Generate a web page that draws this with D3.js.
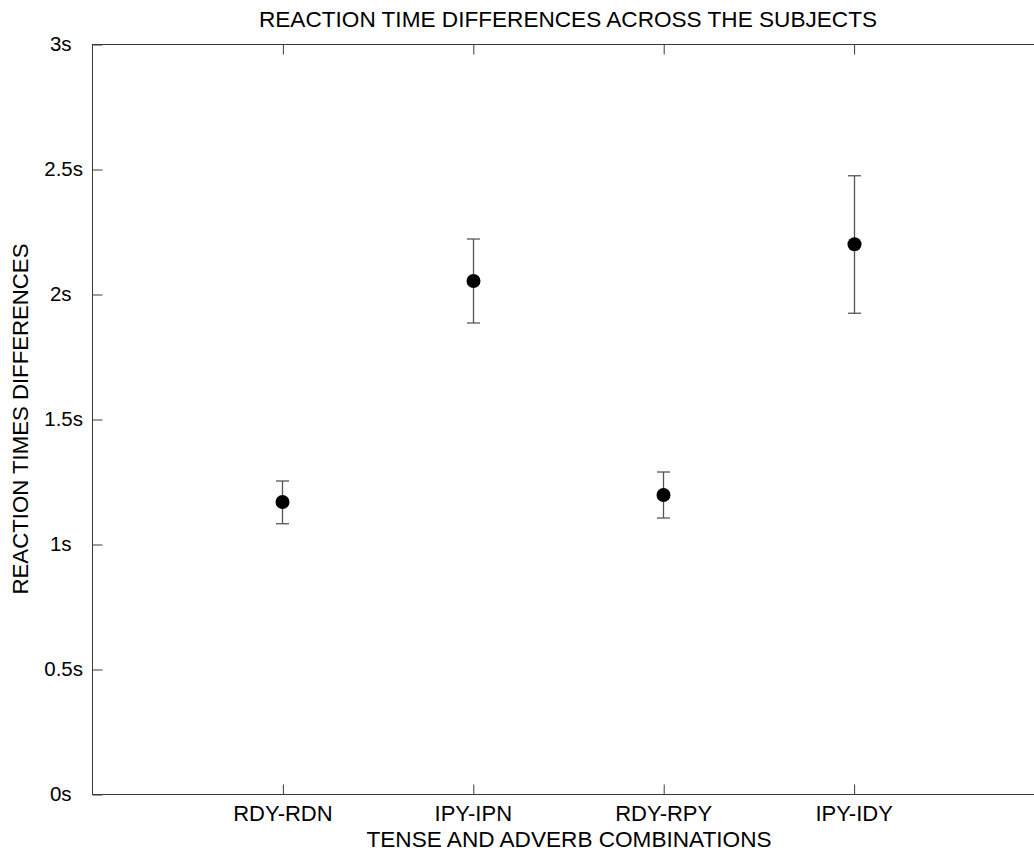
<!DOCTYPE html>
<html><head><meta charset="utf-8">
<script src="https://cdn.jsdelivr.net/npm/d3@7"></script>
<style>body{margin:0;background:#fff;} text{font-family:"Liberation Sans",Arial,sans-serif;fill:#000;}</style>
</head><body>
<svg id="c" width="1034" height="852"></svg>
<script>
const categories = ["RDY-RDN","IPY-IPN","RDY-RPY","IPY-IDY"];
const means = [1.168, 2.052, 1.196, 2.199];
const upper = [1.252, 2.220, 1.288, 2.473];
const lower = [1.081, 1.884, 1.104, 1.923];
const yTicks = [0, 0.5, 1, 1.5, 2, 2.5, 3];
const yTickLabels = ["0s\u00A0\u00A0","0.5s","1s\u00A0\u00A0","1.5s","2s\u00A0\u00A0","2.5s","3s\u00A0\u00A0"];

const svg = d3.select("#c");
const L = 92, T = 44, B = 794, R = 1044;
const x = d3.scaleLinear().domain([0, 5]).range([L, R]);
const y = d3.scaleLinear().domain([0, 3]).range([B, T]);
const axisCol = "#3a3a3a";
const ff = '"Liberation Sans",Arial,sans-serif';
const xs = categories.map((c, i) => i + 1);

// frame
svg.append("rect").attr("x", L + 0.5).attr("y", T + 0.5).attr("width", R - L).attr("height", B - T)
  .attr("fill", "none").attr("stroke", axisCol).attr("stroke-width", 1);

function style(g) {
  g.select(".domain").remove();
  g.selectAll("line").attr("stroke", axisCol);
}
// inward ticks
svg.append("g").attr("transform", `translate(${L + 0.5},0.5)`)
  .call(d3.axisRight(y).tickValues(yTicks).tickFormat("").tickSize(10)).call(style);
svg.append("g").attr("transform", `translate(${R + 0.5},0.5)`)
  .call(d3.axisLeft(y).tickValues(yTicks).tickFormat("").tickSize(10)).call(style);
svg.append("g").attr("transform", `translate(0.5,${B + 0.5})`)
  .call(d3.axisTop(x).tickValues(xs).tickFormat("").tickSize(10)).call(style);
svg.append("g").attr("transform", `translate(0.5,${T + 0.5})`)
  .call(d3.axisBottom(x).tickValues(xs).tickFormat("").tickSize(10)).call(style);

// labels
const yl = svg.append("g").attr("transform", `translate(${L},0)`)
  .call(d3.axisLeft(y).tickValues(yTicks).tickFormat((d, i) => yTickLabels[i]).tickSize(0).tickPadding(9));
yl.select(".domain").remove();
yl.selectAll("text").attr("font-size", 20.5).style("font-family", ff).attr("fill", "#000");
const xb = svg.append("g").attr("transform", `translate(0,${B})`)
  .call(d3.axisBottom(x).tickValues(xs).tickFormat((d, i) => categories[i]).tickSize(0).tickPadding(11));
xb.select(".domain").remove();
xb.selectAll("text").attr("font-size", 22).style("font-family", ff).attr("fill", "#000");

// error bars
const g = svg.append("g");
const cap = 6.5;
const ebCol = "#555";
categories.forEach((c, i) => {
  const cx = Math.round(x(i + 1)) + 0.5;
  g.append("line").attr("x1", cx).attr("x2", cx).attr("y1", y(lower[i])).attr("y2", y(upper[i])).attr("stroke", ebCol).attr("stroke-width", 1.3);
  [upper[i], lower[i]].forEach(v => {
    g.append("line").attr("x1", cx - cap).attr("x2", cx + cap).attr("y1", y(v)).attr("y2", y(v)).attr("stroke", ebCol).attr("stroke-width", 1.3);
  });
  g.append("circle").attr("cx", cx).attr("cy", y(means[i])).attr("r", 7).attr("fill", "#000");
});

// titles
svg.append("text").attr("x", 568).attr("y", 27).attr("text-anchor", "middle").attr("font-size", 22.6)
  .text("REACTION TIME DIFFERENCES ACROSS THE SUBJECTS");
svg.append("text").attr("x", 569).attr("y", 847).attr("text-anchor", "middle").attr("font-size", 22.6)
  .text("TENSE AND ADVERB COMBINATIONS");
svg.append("text").attr("transform", "translate(28,419) rotate(-90)").attr("text-anchor", "middle").attr("font-size", 22.2)
  .text("REACTION TIMES DIFFERENCES");
</script>
</body></html>
